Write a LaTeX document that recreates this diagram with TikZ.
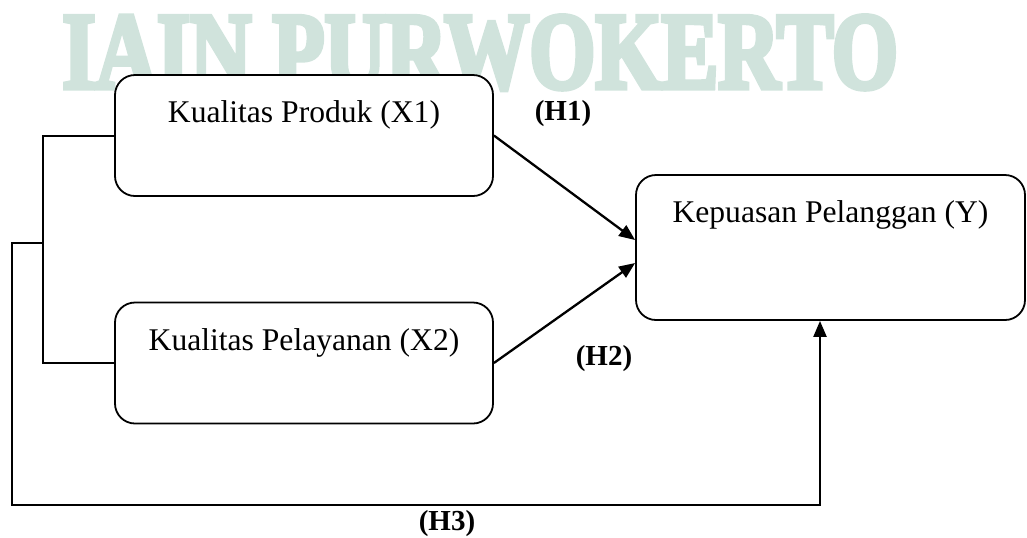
\documentclass[tikz,border=0pt]{standalone}
\usepackage{graphicx}
\usepackage{fontspec}
\setmainfont{Liberation Serif}
\newfontfamily\wmfont[BoldFeatures={FakeBold=5}]{Liberation Serif}
\usetikzlibrary{arrows.meta}
\definecolor{wmteal}{RGB}{208,227,220}

\begin{document}
\begin{tikzpicture}[x=0.5pt,y=-0.5pt,font=\fontsize{15.8}{19}\selectfont,
  varbox/.style={draw, line width=0.9pt, rounded corners=10pt, fill=white, minimum width=189pt, minimum height=60.5pt},
  link/.style={line width=1pt},
  arr/.style={line width=1.15pt, -{Triangle[length=8pt,width=6.5pt]}},
  hyp/.style={font=\fontsize{14.5}{17}\selectfont\bfseries}]
  \useasboundingbox (0,0) rectangle (1027,537);
  % watermark
  \node[text=wmteal, font=\wmfont\fontsize{54.5}{60}\selectfont\bfseries, anchor=base west, inner sep=0pt] (wm) at (62,88) {\scalebox{0.78}[1]{IAIN PURWOKERTO}};
  % variables
  \node[varbox, label={[anchor=center,yshift=-20.5pt]north:Kualitas Produk (X1)}] (x1) at (304,135.5) {};
  \node[varbox, label={[anchor=center,yshift=-20.5pt]north:Kualitas Pelayanan (X2)}] (x2) at (304,363) {};
  \node[varbox, minimum width=194.5pt, minimum height=72.5pt, label={[anchor=center,yshift=-20.5pt]north:Kepuasan Pelanggan (Y)}] (y) at (830.5,247.5) {};
  \coordinate (bx) at (43,0);
  \coordinate (ox) at (12,243);
  \coordinate (oy) at (820,505);
  % hypotheses
  \draw[arr] (x1.east) -- ([yshift=3.75pt]y.west);
  \draw[arr] (x2.east) -- ([yshift=-7.75pt]y.west);
  \draw[link] (x1.west) -- (x1.west -| bx) |- (x2.west);
  \draw[arr] (bx |- ox) -- (ox) |- (oy) -- (oy |- y.south);
  \node[hyp] (h1) at (563,114) {(H1)};
  \node[hyp] (h2) at (604,359) {(H2)};
  \node[hyp] (h3) at (447,524) {(H3)};
\end{tikzpicture}
\end{document}
